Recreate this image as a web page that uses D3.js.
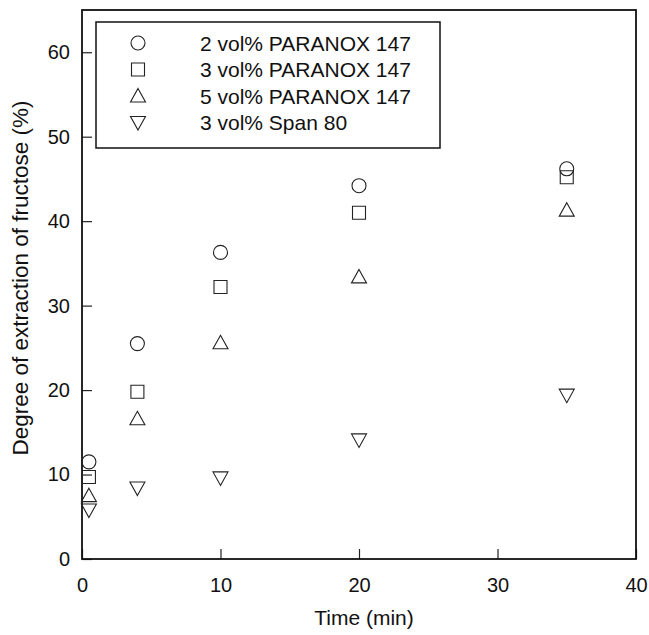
<!DOCTYPE html>
<html><head><meta charset="utf-8">
<script src="https://cdn.jsdelivr.net/npm/d3@7"></script>
<style>body{margin:0;background:#fff}</style>
</head><body>
<svg id="c" width="649" height="635"></svg>
<script>
const times = [0.5, 4, 10, 20, 35];
const seriesNames = ["2 vol% PARANOX 147", "3 vol% PARANOX 147", "5 vol% PARANOX 147", "3 vol% Span 80"];
const paranox2 = [11.5, 25.5, 36.3, 44.2, 46.2];
const paranox3 = [9.7, 19.8, 32.2, 41.0, 45.2];
const paranox5 = [7.5, 16.6, 25.6, 33.4, 41.3];
const span80 = [5.8, 8.4, 9.6, 14.1, 19.4];
const xTicks = [0, 10, 20, 30, 40];
const yTicks = [0, 10, 20, 30, 40, 50, 60];

const series = [paranox2, paranox3, paranox5, span80];
const symbols = ["circle", "square", "triangle", "down"];

const svg = d3.select("#c");
const L = 82, R = 636, T = 10, B = 559;
const x = d3.scaleLinear().domain([0, 40]).range([L, R]);
const y = d3.scaleLinear().domain([0, 65]).range([B, T]);
const font = "Arial, 'Liberation Sans', sans-serif";

function drawSym(g, type, cx, cy) {
  const s = g.append("path").attr("fill", "none").attr("stroke", "#222").attr("stroke-width", 1.1);
  let d;
  if (type === "circle") {
    d = `M${cx+7},${cy} A7,7 0 1,1 ${cx-7},${cy} A7,7 0 1,1 ${cx+7},${cy}Z`;
  } else if (type === "square") {
    d = `M${cx-6.5},${cy-6.5}h13v13h-13Z`;
  } else if (type === "triangle") {
    d = `M${cx},${cy-7.5}L${cx+7.5},${cy+6}L${cx-7.5},${cy+6}Z`;
  } else {
    d = `M${cx},${cy+7.5}L${cx+7.5},${cy-6}L${cx-7.5},${cy-6}Z`;
  }
  s.attr("d", d);
}

// axes
const xAxis = d3.axisBottom(x).tickValues(xTicks).tickSize(-10).tickPadding(19);
const yAxis = d3.axisLeft(y).tickValues(yTicks).tickSize(-10).tickPadding(12);
const gx = svg.append("g").attr("transform", `translate(0,${B})`).call(xAxis);
const gy = svg.append("g").attr("transform", `translate(${L},0)`).call(yAxis);
[gx, gy].forEach(g => {
  g.select(".domain").remove();
  g.selectAll("line").attr("stroke", "#222").attr("stroke-width", 1.2);
  g.selectAll("text").attr("font-family", font).attr("font-size", 20).attr("fill", "#111");
});

// frame
svg.append("rect").attr("x", L).attr("y", T).attr("width", R - L).attr("height", B - T)
  .attr("fill", "none").attr("stroke", "#111").attr("stroke-width", 1.8);

// data
series.forEach((vals, i) => {
  const g = svg.append("g");
  vals.forEach((v, j) => drawSym(g, symbols[i], x(times[j]), y(v)));
});

// legend
svg.append("rect").attr("x", 96).attr("y", 22).attr("width", 344).attr("height", 126)
  .attr("fill", "#fff").attr("stroke", "#111").attr("stroke-width", 1.5);
seriesNames.forEach((n, i) => {
  const yy = 43 + i * 26.5;
  drawSym(svg.append("g"), symbols[i], 138, yy);
  svg.append("text").attr("x", 200).attr("y", yy + 7.5).attr("font-family", font)
    .attr("font-size", 21).attr("fill", "#111").text(n);
});

// axis titles
svg.append("text").attr("x", 364).attr("y", 625).attr("text-anchor", "middle")
  .attr("font-family", font).attr("font-size", 21).attr("fill", "#111").text("Time (min)");
svg.append("text").attr("transform", `translate(28,278) rotate(-90)`)
  .attr("text-anchor", "middle").attr("font-family", font).attr("font-size", 22.5).attr("fill", "#111")
  .text("Degree of extraction of fructose (%)");
</script>
</body></html>
